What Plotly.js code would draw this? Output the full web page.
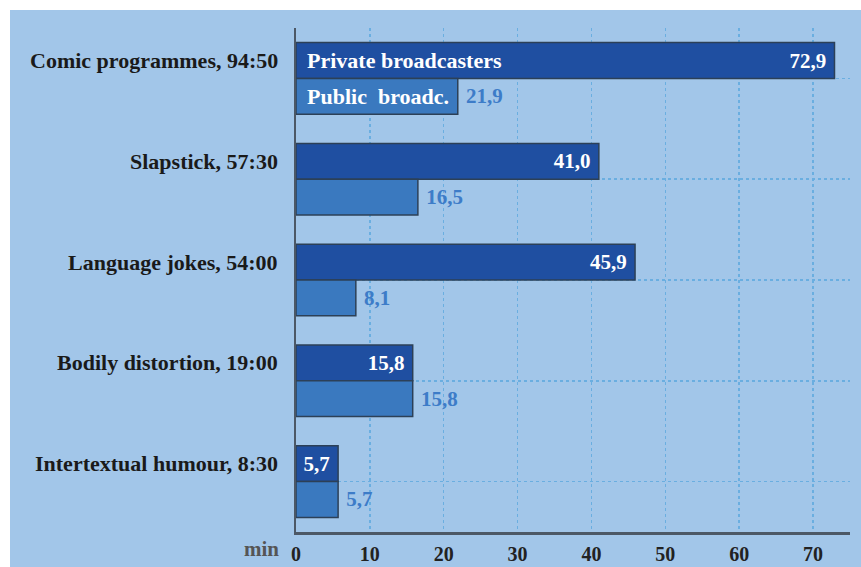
<!DOCTYPE html>
<html>
<head>
<meta charset="utf-8">
<script src="https://cdn.plot.ly/plotly-3.0.1.min.js"></script>
<style>
html,body{margin:0;padding:0;background:#fff;}
#chart{width:861px;height:567px;}
</style>
</head>
<body>
<div id="chart"></div>
<script>
var categories = ["Comic programmes, 94:50", "Slapstick, 57:30", "Language jokes, 54:00", "Bodily distortion, 19:00", "Intertextual humour, 8:30"];
var privateValues = [72.9, 41.0, 45.9, 15.8, 5.7];
var publicValues = [21.9, 16.5, 8.1, 15.8, 5.7];
var seriesNames = ["Private broadcasters", "Public  broadc."];
var xTicks = [0, 10, 20, 30, 40, 50, 60, 70];
var unitLabel = "min";

function fmt(v){ return v.toFixed(1).replace('.', ','); }

var FONT = "Liberation Serif, Times New Roman, serif";
var C_PRIV = "#1f4fa1";
var C_PUB = "#3a79bf";
var C_BG = "#a2c6e9";

var traces = [
  {
    type: 'bar', orientation: 'h', name: seriesNames[0],
    y: categories, x: privateValues,
    text: privateValues.map(function(v){ return fmt(v) + "\u00a0"; }),
    textposition: 'inside', insidetextanchor: 'end', constraintext: 'none', textangle: 0,
    textfont: {family: FONT, size: 21, color: '#ffffff', weight: 'bold'},
    marker: {color: C_PRIV, line: {color: '#2c4057', width: 1.5}},
    hoverinfo: 'none'
  },
  {
    type: 'bar', orientation: 'h', name: seriesNames[1],
    y: categories, x: publicValues,
    text: publicValues.map(function(v){ return "\u00a0" + fmt(v); }),
    textposition: 'outside', constraintext: 'none', textangle: 0, cliponaxis: false,
    textfont: {family: FONT, size: 21, color: '#3d7cc8', weight: 'bold'},
    marker: {color: C_PUB, line: {color: '#2c4057', width: 1.5}},
    hoverinfo: 'none'
  }
];

var annotations = [];
categories.forEach(function(c){
  annotations.push({
    xref: 'paper', yref: 'y', x: (280 - 296) / 554, y: c, yshift: 18,
    xanchor: 'right', yanchor: 'middle', showarrow: false, text: c,
    font: {family: FONT, size: 22, color: '#1a1a1a', weight: 'bold'}
  });
});
annotations.push({
  xref: 'x', yref: 'y', x: 0, y: categories[0], yshift: 18, xshift: 9,
  xanchor: 'left', yanchor: 'middle', showarrow: false, text: seriesNames[0],
  font: {family: FONT, size: 22, color: '#ffffff', weight: 'bold'}
});
annotations.push({
  xref: 'x', yref: 'y', x: 0, y: categories[0], yshift: -18, xshift: 9,
  xanchor: 'left', yanchor: 'middle', showarrow: false, text: seriesNames[1].replace(/ /g, "\u00a0"),
  font: {family: FONT, size: 22, color: '#ffffff', weight: 'bold'}
});
annotations.push({
  xref: 'paper', yref: 'paper', x: (281 - 296) / 554, y: (532 - 549) / 504,
  xanchor: 'right', yanchor: 'middle', showarrow: false, text: unitLabel,
  font: {family: FONT, size: 21, color: '#555555', weight: 'bold'}
});

var layout = {
  width: 861, height: 567,
  margin: {l: 296, r: 11, t: 28, b: 35, pad: 0},
  paper_bgcolor: '#ffffff',
  plot_bgcolor: 'rgba(0,0,0,0)',
  showlegend: false,
  barmode: 'group', bargap: 0.29, bargroupgap: 0,
  xaxis: {
    range: [0, 75], tickvals: xTicks, ticktext: xTicks.map(String),
    showgrid: true, gridcolor: '#6aaee0', griddash: 'dot', gridwidth: 1.5,
    zeroline: false,
    showline: true, linecolor: '#4c5866', linewidth: 2.5,
    ticks: 'outside', ticklen: 2, tickcolor: 'rgba(0,0,0,0)',
    tickfont: {family: FONT, size: 20, color: '#222222', weight: 'bold'},
    fixedrange: true
  },
  yaxis: {
    type: 'category', autorange: 'reversed',
    showticklabels: false,
    showgrid: true, gridcolor: '#6aaee0', griddash: 'dot', gridwidth: 1.5,
    zeroline: false,
    showline: true, linecolor: '#4c5866', linewidth: 2.5,
    ticks: '', fixedrange: true
  },
  shapes: [{
    type: 'rect', xref: 'paper', yref: 'paper', layer: 'below',
    x0: (10 - 296) / 554, x1: (861 - 296) / 554,
    y0: (532 - 567) / 504, y1: (532 - 10) / 504,
    fillcolor: C_BG, line: {width: 0}
  }],
  annotations: annotations
};

Plotly.newPlot('chart', traces, layout, {displayModeBar: false, staticPlot: true});
</script>
</body>
</html>
